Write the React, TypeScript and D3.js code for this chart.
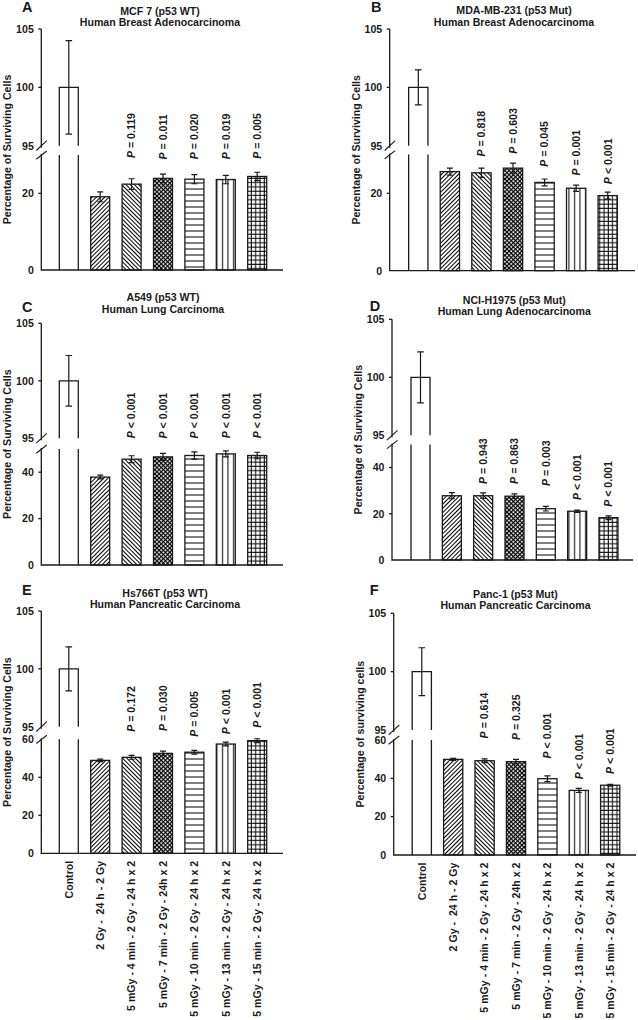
import React from "react";
import * as d3 from "d3";

// ---------- data ----------
const categories = [
  "Control",
  "2 Gy -  24 h - 2 Gy",
  "5 mGy - 4 min - 2 Gy - 24 h x 2",
  "5 mGy - 7 min - 2 Gy - 24h x 2",
  "5 mGy - 10 min - 2 Gy - 24 h x 2",
  "5 mGy - 13 min - 2 Gy - 24 h x 2",
  "5 mGy - 15 min - 2 Gy - 24 h x 2",
];

const meansA = [100, 19.1, 22.4, 23.9, 23.7, 23.6, 24.4];
const errsA = [4.0, 1.3, 1.4, 1.1, 1.2, 1.1, 1.1];
const pA = ["= 0.119", "= 0.011", "= 0.020", "= 0.019", "= 0.005"];

const meansB = [100, 25.6, 25.3, 26.5, 22.8, 21.3, 19.4];
const errsB = [1.5, 0.9, 1.2, 1.3, 0.9, 0.8, 0.9];
const pB = ["= 0.818", "= 0.603", "= 0.045", "= 0.001", "< 0.001"];

const meansC = [100, 37.9, 45.6, 46.6, 47.2, 47.9, 47.2];
const errsC = [2.2, 0.8, 1.5, 1.5, 1.6, 1.3, 1.4];
const pC = ["< 0.001", "< 0.001", "< 0.001", "< 0.001", "< 0.001"];

const meansD = [100, 27.8, 27.8, 27.6, 22.2, 21.1, 18.3];
const errsD = [2.2, 1.3, 1.2, 1.0, 1.0, 0.5, 0.8];
const pD = ["= 0.943", "= 0.863", "= 0.003", "< 0.001", "< 0.001"];

const meansE = [100, 48.9, 50.5, 52.6, 53.2, 57.5, 59.3];
const errsE = [1.9, 0.7, 1.0, 1.2, 1.0, 1.0, 1.0];
const pE = ["= 0.172", "= 0.030", "= 0.005", "< 0.001", "< 0.001"];

const meansF = [100, 49.9, 49.2, 48.7, 39.8, 33.7, 36.4];
const errsF = [2.05, 0.5, 1.0, 1.2, 1.5, 1.1, 0.5];
const pF = ["= 0.614", "= 0.325", "< 0.001", "< 0.001", "< 0.001"];

const upperTicks = [95, 100, 105];

// ---------- layout ----------
const FONT = "'Liberation Sans', Arial, Helvetica, sans-serif";
const INK = "#1a1a1a";
const FS = 10.6;
const patternIds = ["none", "diagUp", "diagDown", "weave", "horiz", "vert", "grid"];

type Cfg = {
  letter: string; lx: number; ly: number;
  title: string[]; tx: number; ty: number[];
  axisX: number; xEnd: number;
  y105: number; y95: number; yLowTop: number; y0: number;
  lowMax: number; lowTicks: number[];
  c0: number; step: number; barW: number;
  ylabel: string;
  means: number[]; errs: number[]; pvals: string[];
  gaps: number[]; showX: boolean;
};

const panels: Cfg[] = [
  {
    letter: "A", lx: 22, ly: 12, title: ["MCF 7 (p53 WT)", "Human Breast Adenocarcinoma"], tx: 160, ty: [11, 22],
    axisX: 41.3, xEnd: 283, y105: 29, y95: 145.7, yLowTop: 155, y0: 270, lowMax: 30, lowTicks: [0, 20],
    c0: 68.8, step: 31.4, barW: 19, ylabel: "Percentage of Surviving Cells",
    means: meansA, errs: errsA, pvals: pA, gaps: [20.7, 14.7, 15.4, 16, 13.4], showX: false,
  },
  {
    letter: "B", lx: 371, ly: 12, title: ["MDA-MB-231 (p53 Mut)", "Human Breast Adenocarcinoma"], tx: 514, ty: [10.5, 22],
    axisX: 389.7, xEnd: 635, y105: 29, y95: 145.7, yLowTop: 154.6, y0: 270.7, lowMax: 30, lowTicks: [0, 20],
    c0: 418.3, step: 31.57, barW: 19.3, ylabel: "Percentage of Surviving Cells",
    means: meansB, errs: errsB, pvals: pB, gaps: [11.6, 9.3, 12.3, 9.6, 8], showX: false,
  },
  {
    letter: "C", lx: 22, ly: 311.7, title: ["A549 (p53 WT)", "Human Lung Carcinoma"], tx: 163, ty: [297.5, 309.5],
    axisX: 41.3, xEnd: 283, y105: 323.3, y95: 438.3, yLowTop: 449, y0: 565, lowMax: 50, lowTicks: [0, 20, 40],
    c0: 68.8, step: 31.4, barW: 19, ylabel: "Percentage of Surviving Cells",
    means: meansC, errs: errsC, pvals: pC, gaps: [17.4, 15, 13.4, 12.7, 14], showX: false,
  },
  {
    letter: "D", lx: 369.7, ly: 311, title: ["NCI-H1975 (p53 Mut)", "Human Lung Adenocarcinoma"], tx: 514.3, ty: [300, 311],
    axisX: 392, xEnd: 633, y105: 319.3, y95: 435.3, yLowTop: 444.4, y0: 560, lowMax: 50, lowTicks: [0, 20, 40],
    c0: 420.5, step: 31.33, barW: 19, ylabel: "Percentage of Surviving Cells",
    means: meansD, errs: errsD, pvals: pD, gaps: [9, 10, 20.3, 10, 9], showX: false,
  },
  {
    letter: "E", lx: 22, ly: 595, title: ["Hs766T (p53 WT)", "Human Pancreatic Carcinoma"], tx: 165, ty: [593.3, 603.8],
    axisX: 41.3, xEnd: 283, y105: 611, y95: 726.7, yLowTop: 739.3, y0: 853.3, lowMax: 60, lowTicks: [0, 20, 40, 60],
    c0: 68.8, step: 31.4, barW: 19, ylabel: "Percentage of Surviving Cells",
    means: meansE, errs: errsE, pvals: pE, gaps: [23.6, 20, 13.6, 8, 11], showX: true,
  },
  {
    letter: "F", lx: 369.7, ly: 595, title: ["Panc-1 (p53 Mut)", "Human Pancreatic Carcinoma"], tx: 515.5, ty: [594, 605.3],
    axisX: 393.7, xEnd: 636, y105: 613.3, y95: 730, yLowTop: 740, y0: 855, lowMax: 60, lowTicks: [0, 20, 40, 60],
    c0: 421.8, step: 31.4, barW: 19.2, ylabel: "Percentage of surviving cells",
    means: meansF, errs: errsF, pvals: pF, gaps: [20.4, 19.3, 17.4, 9, 10.3], showX: true,
  },
];

function Patterns() {
  const s = { stroke: "#000", strokeWidth: 1 };
  return (
    <defs>
      <pattern id="diagUp" width={3} height={3} patternUnits="userSpaceOnUse" patternTransform="rotate(45)">
        <rect width={3} height={3} fill="#fff" />
        <line x1={0.5} y1={0} x2={0.5} y2={3} {...s} />
      </pattern>
      <pattern id="diagDown" width={3} height={3} patternUnits="userSpaceOnUse" patternTransform="rotate(-45)">
        <rect width={3} height={3} fill="#fff" />
        <line x1={0.5} y1={0} x2={0.5} y2={3} {...s} />
      </pattern>
      <pattern id="weave" width={3} height={3} patternUnits="userSpaceOnUse" patternTransform="rotate(45)">
        <rect width={3} height={3} fill="#fff" />
        <line x1={0.6} y1={0} x2={0.6} y2={3} stroke="#000" strokeWidth={1.25} />
        <line x1={0} y1={0.6} x2={3} y2={0.6} stroke="#000" strokeWidth={1.25} />
      </pattern>
      <pattern id="horiz" width={6} height={6} patternUnits="userSpaceOnUse">
        <rect width={6} height={6} fill="#fff" />
        <line x1={0} y1={3} x2={6} y2={3} {...s} />
      </pattern>
      <pattern id="vert" width={5.5} height={5.5} patternUnits="userSpaceOnUse">
        <rect width={5.5} height={5.5} fill="#fff" />
        <line x1={2.5} y1={0} x2={2.5} y2={5.5} {...s} />
      </pattern>
      <pattern id="grid" width={4.3} height={4.3} patternUnits="userSpaceOnUse">
        <rect width={4.3} height={4.3} fill="#fff" />
        <line x1={2} y1={0} x2={2} y2={4.3} {...s} />
        <line x1={0} y1={2} x2={4.3} y2={2} {...s} />
      </pattern>
    </defs>
  );
}

function Panel({ cfg }: { cfg: Cfg }) {
  const yU = d3.scaleLinear().domain([95, 105]).range([cfg.y95, cfg.y105]);
  const yL = d3.scaleLinear().domain([0, cfg.lowMax]).range([cfg.y0, cfg.yLowTop]);
  const x = d3
    .scaleBand<string>()
    .domain(categories)
    .range([cfg.c0 - cfg.step / 2, cfg.c0 + cfg.step * (categories.length - 0.5)])
    .paddingInner(1 - cfg.barW / cfg.step)
    .paddingOuter((1 - cfg.barW / cfg.step) / 2);
  const bw = x.bandwidth();
  const ax = cfg.axisX;
  const sw = 1.3;

  const lowerTickVals = cfg.lowTicks;
  const elems: React.ReactNode[] = [];

  categories.forEach((cat, i) => {
    const v = cfg.means[i];
    const e = cfg.errs[i];
    const x0 = x(cat)!;
    const cx = x0 + bw / 2;
    if (v > cfg.lowMax) {
      const top = yU(v);
      elems.push(
        <path key={`bu${i}`} d={`M${x0},${cfg.y95}V${top}H${x0 + bw}V${cfg.y95}`} fill="#fff" stroke={INK} strokeWidth={sw} />
      );
      elems.push(
        <path key={`bl${i}`} d={`M${x0},${cfg.yLowTop}V${cfg.y0}M${x0 + bw},${cfg.yLowTop}V${cfg.y0}`} fill="none" stroke={INK} strokeWidth={sw} />
      );
      const t = yU(v + e), b = yU(v - e);
      elems.push(
        <path key={`e${i}`} d={`M${cx},${t}V${b}M${cx - 3.3},${t}H${cx + 3.3}M${cx - 3.3},${b}H${cx + 3.3}`} stroke={INK} strokeWidth={1.2} fill="none" />
      );
    } else {
      const top = yL(v);
      elems.push(
        <rect key={`b${i}`} x={x0} y={top} width={bw} height={cfg.y0 - top} fill={`url(#${patternIds[i]})`} stroke={INK} strokeWidth={sw} />
      );
      const t = yL(v + e), b = yL(v - e);
      elems.push(
        <path key={`e${i}`} d={`M${cx},${t}V${b}M${cx - 3},${t}H${cx + 3}M${cx - 3},${b}H${cx + 3}`} stroke={INK} strokeWidth={1.2} fill="none" />
      );
      if (i >= 2) {
        const ly = t - cfg.gaps[i - 2];
        elems.push(
          <text key={`p${i}`} transform={`translate(${cx},${ly}) rotate(-90)`} dy="0.36em" fontSize={FS} fontWeight="bold" fill={INK} textAnchor="start">
            <tspan fontStyle="italic">P</tspan>
            {` ${cfg.pvals[i - 2]}`}
          </text>
        );
      }
    }
    if (cfg.showX) {
      elems.push(
        <text key={`x${i}`} xmlSpace="preserve" transform={`translate(${cx},${cfg.y0 + 7.5}) rotate(-90)`} dy="0.36em" fontSize={FS} fontWeight="bold" fill={INK} textAnchor="end" style={{ whiteSpace: "pre" }}>
          {cat}
        </text>
      );
    }
  });

  const axis = (
    <g key="axis" stroke={INK} strokeWidth={sw} fill="none">
      <path d={`M${ax},${cfg.y105}V${cfg.y95 + 2}`} />
      <path d={`M${ax},${cfg.yLowTop - 1}V${cfg.y0}H${cfg.xEnd}`} />
      <path d={`M${ax - 5},${cfg.y95 + 4.8}L${ax + 5.5},${cfg.y95 - 5}`} strokeWidth={1.1} />
      <path d={`M${ax - 5},${cfg.yLowTop + 4.2}L${ax + 5.5},${cfg.yLowTop - 4}`} strokeWidth={1.1} />
      {upperTicks.filter((t) => t !== 95).map((t) => (
        <path key={`tu${t}`} d={`M${ax - 3},${yU(t)}H${ax}`} />
      ))}
      {lowerTickVals.filter((t) => t !== cfg.lowMax && t !== 0).map((t) => (
        <path key={`tl${t}`} d={`M${ax - 3},${yL(t)}H${ax}`} />
      ))}
    </g>
  );

  const tickLabels = (
    <g key="tl" fontSize={FS} fontWeight="bold" fill={INK} textAnchor="end">
      {upperTicks.map((t) => (
        <text key={`u${t}`} x={ax - 7.5} y={yU(t)} dy="0.36em">{t}</text>
      ))}
      {lowerTickVals.map((t) => (
        <text key={`l${t}`} x={ax - 7.5} y={yL(t)} dy="0.36em">{t}</text>
      ))}
    </g>
  );

  return (
    <g>
      {elems}
      {axis}
      {tickLabels}
      <text x={cfg.lx} y={cfg.ly} fontSize={14.5} fontWeight="bold" fill={INK}>{cfg.letter}</text>
      {cfg.title.map((t, k) => (
        <text key={`t${k}`} x={cfg.tx} y={cfg.ty[k]} dy="0.36em" fontSize={FS} fontWeight="bold" fill={INK} textAnchor="middle">{t}</text>
      ))}
      <text transform={`translate(${ax - 34},${(cfg.y105 + cfg.y0) / 2}) rotate(-90)`} dy="0.36em" fontSize={FS} fontWeight="bold" fill={INK} textAnchor="middle">
        {cfg.ylabel}
      </text>
    </g>
  );
}

export default function App() {
  return (
    <svg
      width={638}
      height={1020}
      viewBox="0 0 638 1020"
      style={{ position: "absolute", left: 0, top: 0, background: "#fff", fontFamily: FONT }}
    >
      <Patterns />
      <rect width={638} height={1020} fill="#fff" />
      {panels.map((p) => (
        <Panel key={p.letter} cfg={p} />
      ))}
    </svg>
  );
}
